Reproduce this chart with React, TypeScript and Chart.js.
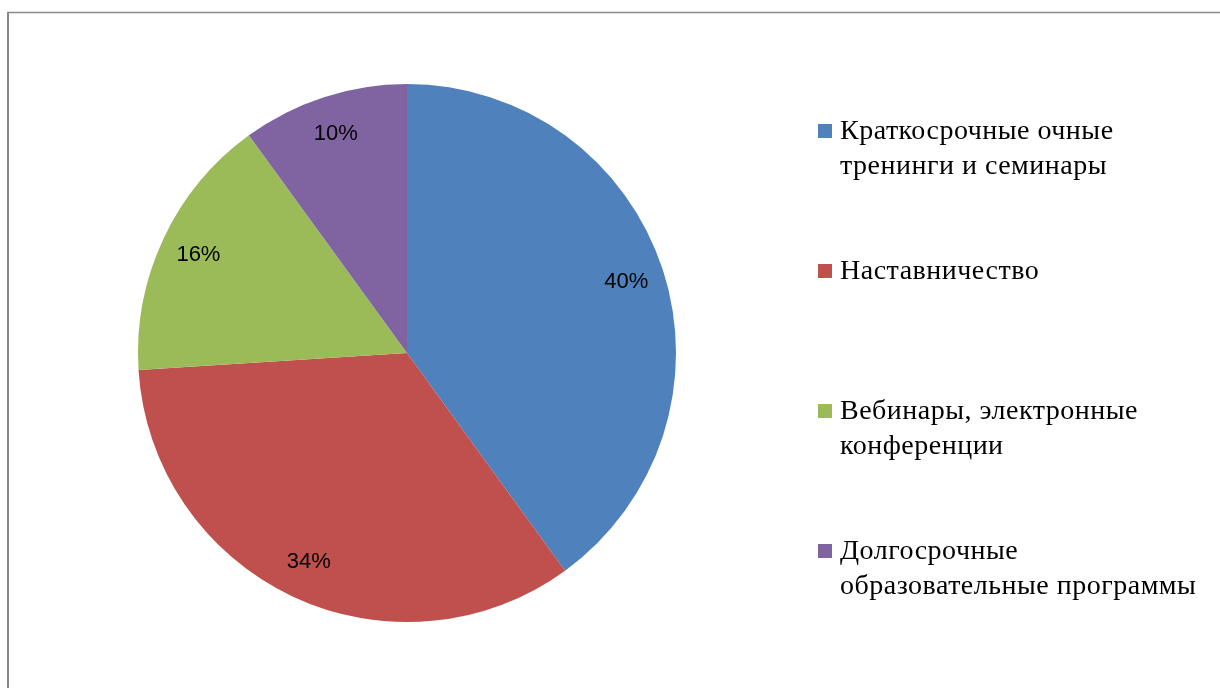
import React, { useEffect, useRef } from "react";
import { Chart, registerables } from "chart.js";

Chart.register(...registerables);

const categories: string[][] = [
  ["Краткосрочные очные", "тренинги и семинары"],
  ["Наставничество"],
  ["Вебинары, электронные", "конференции"],
  ["Долгосрочные", "образовательные программы"],
];
const values: number[] = [40, 34, 16, 10];
const colors: string[] = ["#4F81BD", "#C0504D", "#9BBB59", "#8064A2"];

const framePlugin = {
  id: "frame",
  beforeDraw(chart: any) {
    const ctx = chart.ctx;
    ctx.save();
    ctx.fillStyle = "#ffffff";
    ctx.fillRect(0, 0, chart.width, chart.height);
    ctx.strokeStyle = "#878787";
    ctx.lineWidth = 2;
    ctx.beginPath();
    ctx.moveTo(8, chart.height + 5);
    ctx.lineTo(8, 12.5);
    ctx.stroke();
    ctx.lineWidth = 1.5;
    ctx.beginPath();
    ctx.moveTo(7, 12.5);
    ctx.lineTo(chart.width + 5, 12.5);
    ctx.stroke();
    ctx.restore();
  },
};

const labelPlugin = {
  id: "sliceLabels",
  afterDatasetsDraw(chart: any) {
    const ctx = chart.ctx;
    const meta = chart.getDatasetMeta(0);
    ctx.save();
    ctx.font = "22px 'Liberation Sans', Arial, sans-serif";
    ctx.fillStyle = "#000000";
    ctx.textAlign = "center";
    ctx.textBaseline = "middle";
    meta.data.forEach((arc: any, i: number) => {
      const p = arc.getProps(["x", "y", "startAngle", "endAngle", "outerRadius"], true);
      const mid = (p.startAngle + p.endAngle) / 2;
      const d = p.outerRadius * 0.857;
      const x = p.x + Math.cos(mid) * d;
      const y = p.y + Math.sin(mid) * d;
      ctx.fillText(values[i] + "%", x, y);
    });
    ctx.restore();
  },
};

const legendPlugin = {
  id: "customLegend",
  afterDraw(chart: any) {
    const ctx = chart.ctx;
    ctx.save();
    ctx.font = "28px 'Liberation Serif', 'Times New Roman', serif";
    try {
      (ctx as any).letterSpacing = "0.5px";
    } catch (e) {}
    ctx.textAlign = "left";
    ctx.textBaseline = "alphabetic";
    const startY = 131;
    const step = 140;
    const lineH = 35;
    categories.forEach((lines, i) => {
      const cy = startY + i * step;
      ctx.fillStyle = colors[i];
      ctx.fillRect(818, cy - 7, 14, 14);
      ctx.fillStyle = "#000000";
      lines.forEach((ln, j) => {
        ctx.fillText(ln, 840, cy + 8 + j * lineH);
      });
    });
    ctx.restore();
  },
};

export default function App() {
  const ref = useRef<HTMLCanvasElement | null>(null);
  useEffect(() => {
    if (!ref.current) return;
    const chart = new Chart(ref.current, {
      type: "pie",
      data: {
        labels: categories.map((l) => l.join(" ")),
        datasets: [
          {
            data: values,
            backgroundColor: colors,
            borderWidth: 0,
          },
        ],
      },
      options: {
        animation: false,
        responsive: false,
        maintainAspectRatio: false,
        layout: { padding: { left: 138, right: 544, top: 84, bottom: 66 } },
        plugins: {
          legend: { display: false },
          tooltip: { enabled: false },
        },
      },
      plugins: [framePlugin, labelPlugin, legendPlugin],
    });
    return () => chart.destroy();
  }, []);
  return (
    <div style={{ position: "fixed", left: 0, top: 0, width: 1220, height: 688, background: "#fff" }}>
      <canvas ref={ref} width={1220} height={688} style={{ width: 1220, height: 688, display: "block" }} />
    </div>
  );
}
